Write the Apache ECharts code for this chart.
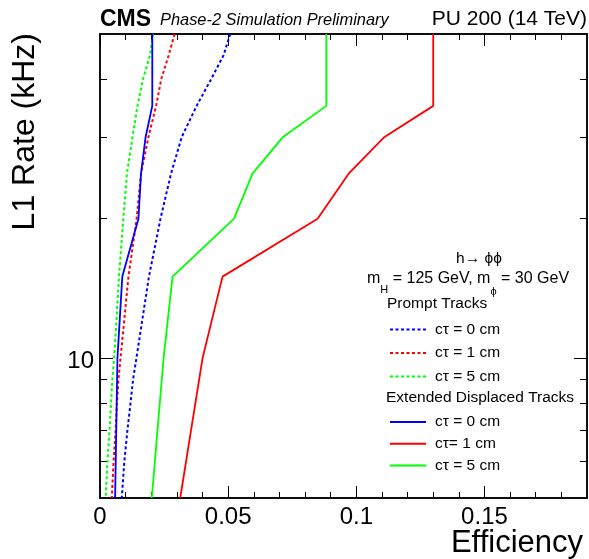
<!DOCTYPE html>
<html><head><meta charset="utf-8">
<script src="https://cdn.jsdelivr.net/npm/echarts@6/dist/echarts.min.js"></script>
<style>html,body{margin:0;padding:0;background:#fff}#c{width:589px;height:559px}</style>
</head><body><div id="c"></div>
<script>
// ---- data (efficiency vs L1 rate in kHz) ----
const promptRates = [50,45,40,35,30,25,20,15,12,10,9,8,7,6,5];
const promptCt0 = [0.0508,0.0482,0.0434,0.0377,0.0319,0.0277,0.0236,0.0191,0.0164,0.0142,0.0129,0.0119,0.0107,0.0095,0.0085];
const promptCt1 = [0.0291,0.0268,0.0239,0.0219,0.0189,0.0160,0.0143,0.0111,0.0094,0.0080,0.0072,0.0066,0.0061,0.0053,0.0046];
const promptCt5 = [0.0207,0.0195,0.0168,0.0146,0.0127,0.0105,0.0091,0.0074,0.0064,0.0055,0.0048,0.0043,0.0037,0.0029,0.0022];
const dispRates = [50,35,30,25,20,15,10,5];
const dispCt0 = [0.0204,0.0204,0.0178,0.0160,0.0150,0.0087,0.0068,0.0059];
const dispCt1 = [0.130,0.130,0.111,0.097,0.0849,0.0478,0.040,0.0313];
const dispCt5 = [0.0883,0.0883,0.0714,0.0595,0.0523,0.0283,0.0248,0.0202];

const promptLabels = ['cτ = 0 cm','cτ = 1 cm','cτ = 5 cm'];
const dispLabels = ['cτ = 0 cm','cτ= 1 cm','cτ = 5 cm'];

// ---- tick labels / positions ----
const xMajorTicks = [0,0.05,0.1,0.15];
const xMinorTicks = [0.01,0.02,0.03,0.04,0.06,0.07,0.08,0.09,0.11,0.12,0.13,0.14,0.16,0.17,0.18];
const yMajorTicks = [10];
const yMinorTicks = [6,7,8,9,20,30,40];

const FONT = 'Liberation Sans, Arial, Helvetica, sans-serif';
const BLUE = '#0000ff', RED = '#ff0000', GREEN = '#00ff00';

function pairs(xs, ys){ return xs.map((x,i)=>[x, ys[i]]); }

function xAx(pos, ticks, len, labels){
  return {
    type:'value', min:0, max:0.19, position:pos,
    axisLine:{show:true, onZero:false, lineStyle:{color:'#000', width:1.5}},
    axisTick:{show:true, inside:true, length:len, customValues:ticks, lineStyle:{color:'#000', width:1}},
    axisLabel:labels ? {show:true, customValues:ticks, margin:7, color:'#000', fontSize:24, fontFamily:FONT,
      formatter:v=>String(+v.toFixed(2))} : {show:false},
    splitLine:{show:false}
  };
}
function yAx(pos, ticks, len, labels){
  return {
    type:'log', logBase:10, min:5, max:50, position:pos,
    axisLine:{show:true, onZero:false, lineStyle:{color:'#000', width:1.5}},
    axisTick:{show:true, inside:true, length:len, customValues:ticks, lineStyle:{color:'#000', width:1}},
    axisLabel:labels ? {show:true, customValues:ticks, margin:6, color:'#000', fontSize:24, fontFamily:FONT,
      verticalAlign:'top', lineHeight:7} : {show:false},
    splitLine:{show:false}, minorTick:{show:false}
  };
}

const chart = echarts.init(document.getElementById('c'), null, {renderer:'canvas'});
const dashed = [3,2.5];
const seriesDefs = [
  {id:'p0', x:promptCt0, y:promptRates, color:BLUE, type:dashed},
  {id:'p1', x:promptCt1, y:promptRates, color:RED, type:dashed},
  {id:'p5', x:promptCt5, y:promptRates, color:GREEN, type:dashed},
  {id:'d0', x:dispCt0, y:dispRates, color:BLUE, type:'solid'},
  {id:'d1', x:dispCt1, y:dispRates, color:RED, type:'solid'},
  {id:'d5', x:dispCt5, y:dispRates, color:GREEN, type:'solid'}
];
const labelMap = {p0:promptLabels[0], p1:promptLabels[1], p5:promptLabels[2], d0:dispLabels[0], d1:dispLabels[1], d5:dispLabels[2]};

const legendCommon = {
  orient:'vertical', left:389, itemWidth:36, itemHeight:14, selectedMode:false, padding:0,
  formatter:n=>labelMap[n], itemStyle:{opacity:0},
  textStyle:{fontFamily:FONT, fontSize:15.5, lineHeight:14, color:'#000', padding:[0,0,0,4]}
};

chart.setOption({
  animation:false,
  backgroundColor:'#fff',
  grid:{left:100, top:34, width:487, height:464, containLabel:false},
  xAxis:[
    xAx('bottom', xMajorTicks, 12, true),
    xAx('bottom', xMinorTicks, 6, false),
    xAx('top', xMajorTicks, 12, false),
    xAx('top', xMinorTicks, 6, false)
  ],
  yAxis:[
    yAx('left', yMajorTicks, 13, true),
    yAx('left', yMinorTicks, 7, false),
    yAx('right', yMajorTicks, 13, false),
    yAx('right', yMinorTicks, 7, false)
  ],
  legend:[
    Object.assign({}, legendCommon, {data:['p0','p1','p5'], top:321.5, itemGap:7.5}),
    Object.assign({}, legendCommon, {data:['d0','d1','d5'], top:414, itemGap:5.8})
  ],
  series: seriesDefs.map(s=>({
    name:s.id, type:'line', xAxisIndex:0, yAxisIndex:0,
    data:pairs(s.x, s.y), symbol:'none', showSymbol:false, smooth:false,
    lineStyle:{color:s.color, width:s.type==='solid'?1.8:2, type:s.type},
    itemStyle:{color:s.color}, clip:true, z:3
  })),
  graphic:[
    {type:'text', left:100, top:8, style:{text:'CMS', font:'bold 23px '+FONT, fill:'#000'}},
    {type:'text', left:160, top:12.5, style:{text:'Phase-2 Simulation Preliminary', font:'italic 16.4px '+FONT, fill:'#000'}},
    {type:'text', right:2, top:8.5, style:{text:'PU 200 (14 TeV)', font:'21px '+FONT, fill:'#000'}},
    {type:'text', x:583, y:543, style:{text:'Efficiency', font:'31px '+FONT, fill:'#000', align:'right', verticalAlign:'middle'}},
    {type:'text', x:25, y:33, rotation:Math.PI/2, style:{text:'L1 Rate (kHz)', font:'32px '+FONT, fill:'#000', align:'right', verticalAlign:'middle'}},
    {type:'text', x:479, y:259, style:{text:'h→ ϕϕ', font:'15.5px '+FONT, fill:'#000', align:'center', verticalAlign:'middle'}},
    {type:'text', x:367, y:279, style:{
      text:'{n|m}{s|H}{n| = 125 GeV, m}{t|ϕ}{n| = 30 GeV}', verticalAlign:'middle', fill:'#000',
      rich:{n:{fontSize:16, fontFamily:FONT, color:'#000'},
            s:{fontSize:11, fontFamily:FONT, color:'#000', padding:[21,0,0,0]},
            t:{fontSize:11, fontFamily:FONT, color:'#000', padding:[25,0,0,0]}}
    }},
    {type:'text', x:387, y:303.5, style:{text:'Prompt Tracks', font:'15.5px '+FONT, fill:'#000', verticalAlign:'middle'}},
    {type:'text', x:386, y:397.5, style:{text:'Extended Displaced Tracks', font:'15.5px '+FONT, fill:'#000', verticalAlign:'middle'}}
  ]
});
</script></body></html>
